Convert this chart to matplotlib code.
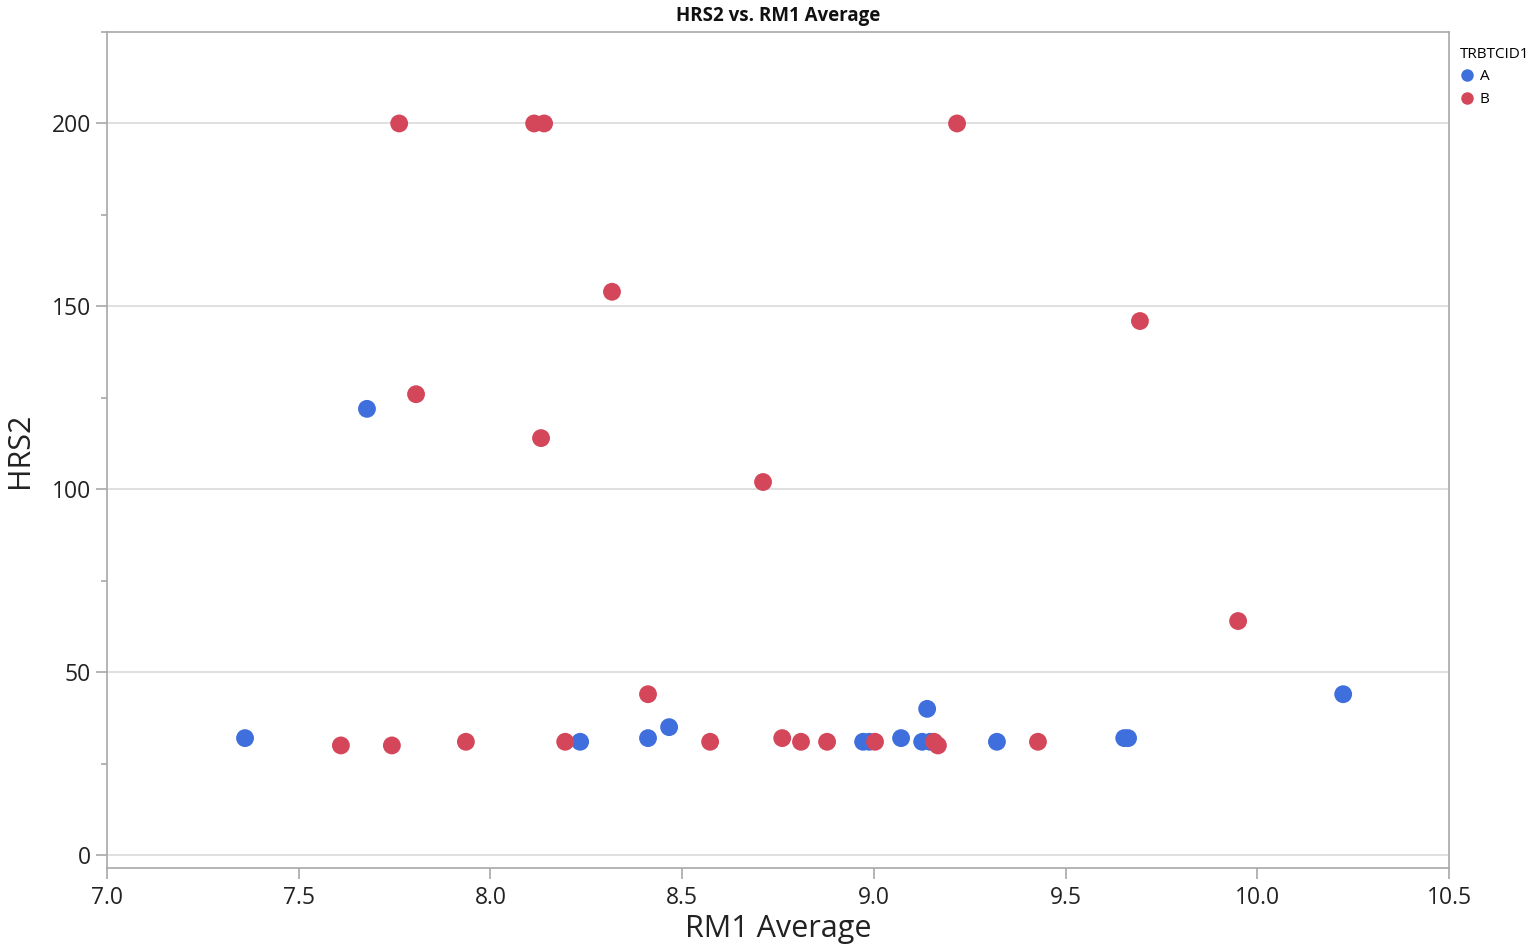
import matplotlib
matplotlib.use("Agg")
import matplotlib.pyplot as plt
from matplotlib.ticker import MultipleLocator
from matplotlib.lines import Line2D

plt.rcParams['font.family'] = ['Open Sans', 'DejaVu Sans']

title = "HRS2 vs. RM1 Average"
x_label = "RM1 Average"
y_label = "HRS2"
legend_title = "TRBTCID1"
groups = ["A", "B"]

a_rm1 = [7.36, 7.678, 8.234, 8.411, 8.466, 8.972, 8.988, 9.071, 9.139, 9.126, 9.147, 9.321, 9.653, 9.663, 10.224]
a_hrs2 = [32, 122, 31, 32, 35, 31, 31, 32, 40, 31, 31, 31, 32, 32, 44]

b_rm1 = [7.762, 8.114, 8.140, 9.217, 8.317, 9.694, 7.806, 8.132, 8.711, 9.950, 8.411,
         7.610, 7.743, 7.936, 8.195, 8.573, 8.761, 8.810, 8.878, 9.003, 9.157, 9.167, 9.428]
b_hrs2 = [200, 200, 200, 200, 154, 146, 126, 114, 102, 64, 44,
          30, 30, 31, 31, 31, 32, 31, 31, 31, 31, 30, 31]

col_a = '#3F6FDC'
col_b = '#D4475A'

fig = plt.figure(figsize=(15.33, 9.52), dpi=100)
ax = fig.add_axes([107/1533, 1-868/952, (1449-107)/1533, (868-32)/952])

ax.scatter(a_rm1, a_hrs2, s=165, color=col_a, edgecolors='none', zorder=3)
ax.scatter(b_rm1, b_hrs2, s=165, color=col_b, edgecolors='none', zorder=3)

ax.set_xlim(7.0, 10.5)
ax.set_ylim(-3.5, 225)
ax.xaxis.set_major_locator(MultipleLocator(0.5))
ax.yaxis.set_major_locator(MultipleLocator(50))
ax.yaxis.set_minor_locator(MultipleLocator(25))
ax.xaxis.set_major_formatter(matplotlib.ticker.FormatStrFormatter('%.1f'))

ax.grid(axis='y', which='major', color='#DADADA', linewidth=1.2, zorder=0)
for s in ax.spines.values():
    s.set_color('#A8A8A8')
    s.set_linewidth(1.2)

ax.tick_params(axis='both', which='major', labelsize=16.5, color='#A8A8A8', length=8, width=1.2, labelcolor='#222222')
ax.tick_params(axis='y', which='minor', color='#A8A8A8', length=4, width=1.2)
ax.tick_params(axis='x', pad=5)

ax.set_xlabel(x_label, fontsize=22, color='#222222', labelpad=3)
ax.set_ylabel(y_label, fontsize=22, color='#222222', labelpad=12)
fig.text((107+1449)/2/1533, 1-16/952, title, ha='center', va='center', fontsize=13.5, fontweight='bold', color='#111111')

handles = [Line2D([], [], marker='o', linestyle='none', markersize=9, markerfacecolor=c, markeredgecolor='none')
           for c in (col_a, col_b)]
leg = fig.legend(handles, groups, title=legend_title, loc='upper left', bbox_to_anchor=(1449/1533, 1-36/952),
                 frameon=False, fontsize=11, title_fontsize=11, handletextpad=0.3, labelspacing=0.5,
                 handlelength=1.0, borderpad=0.2)
leg._legend_box.align = 'left'

fig.savefig('out.png', dpi=100, facecolor='white')
